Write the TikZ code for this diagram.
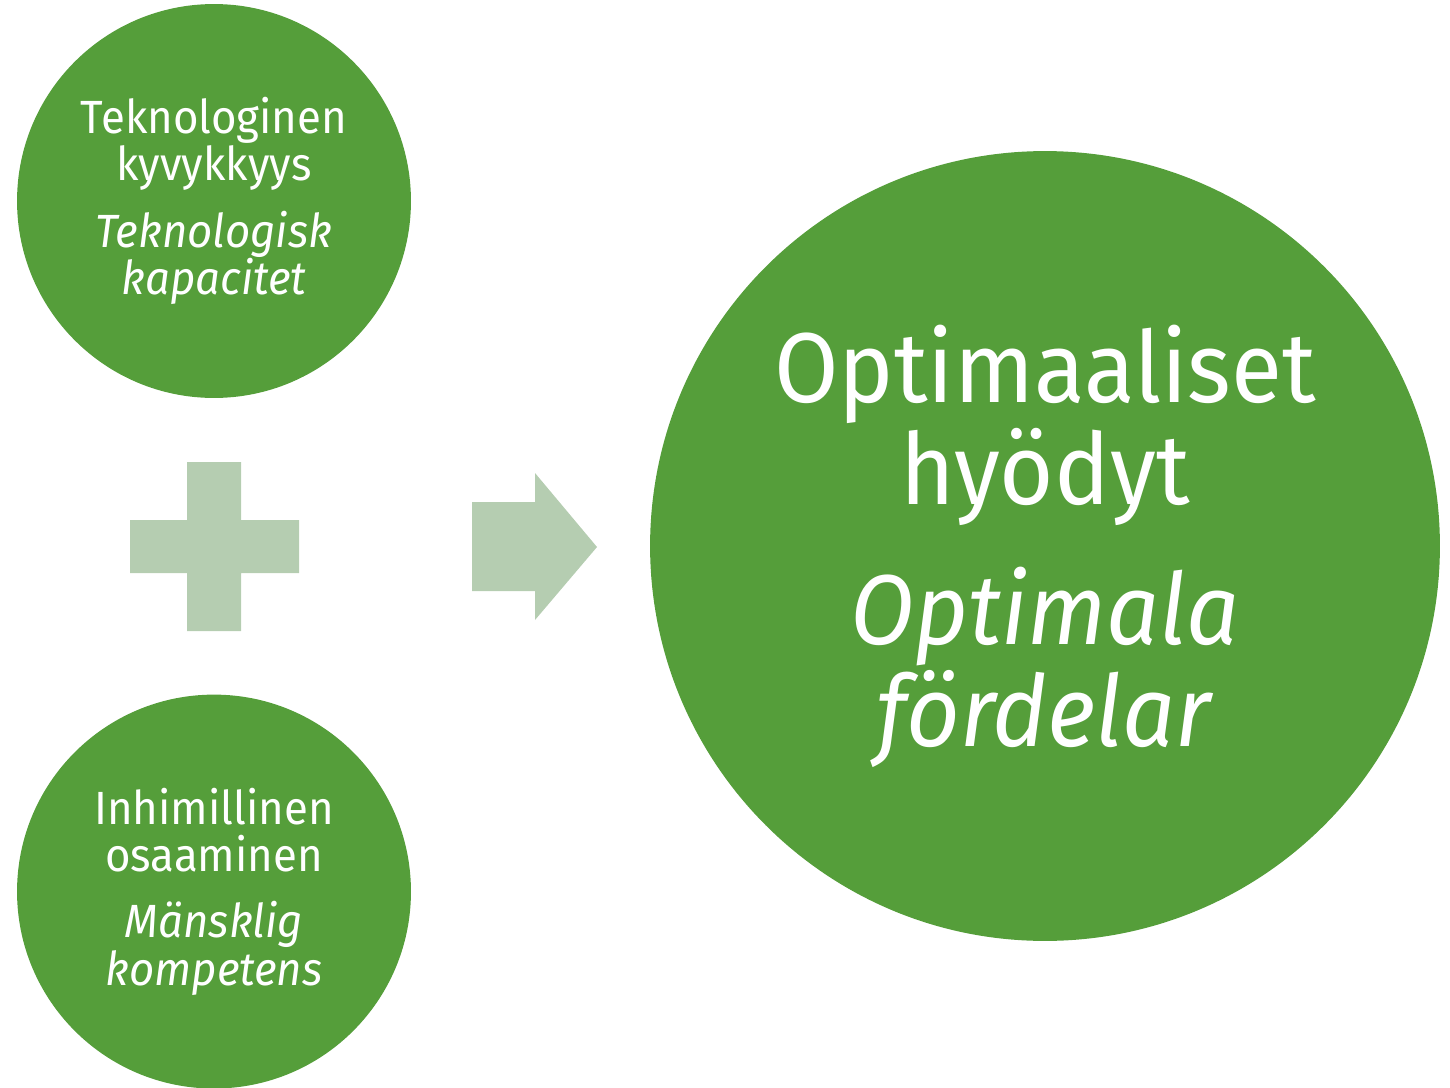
\documentclass[tikz,border=0pt]{standalone}
\usepackage{fontspec}
\setmainfont[FakeStretch=0.94]{Fira Sans}
\usetikzlibrary{positioning}

\definecolor{leafgreen}{RGB}{85,158,58}
\definecolor{palegreen}{RGB}{181,205,177}

\tikzset{
  bubble/.style={circle, fill=leafgreen, text=white, align=center, inner sep=0pt},
  smalltext/.style={font=\fontsize{26.5}{27}\selectfont},
  bigtext/.style={font=\fontsize{56.5}{58}\selectfont},
}

\begin{document}
\begin{tikzpicture}[x=0.02cm, y=-0.02cm]
    \useasboundingbox (0,0) rectangle (1450,1088);

    % input circles
    \node[bubble, smalltext, minimum size=7.88cm] (tech) at (214,201)
        {Teknologinen\\kyvykkyys\\[0.38cm]\textit{Teknologisk}\\\textit{kapacitet}};
    \node[bubble, smalltext, minimum size=7.88cm, below=5.92cm of tech] (human)
        {Inhimillinen\\osaaminen\\[0.38cm]\textit{Mänsklig}\\\textit{kompetens}};

    % result circle
    \node[bubble, bigtext, minimum size=15.8cm] (result) at (1045,546)
        {Optimaaliset\\hyödyt\\[0.76cm]\textit{Optimala}\\\textit{fördelar}};

    % plus sign
    \fill[palegreen] (187,462) -- (241,462) -- (241,520) -- (299,520) -- (299,573)
        -- (241,573) -- (241,631) -- (187,631) -- (187,573) -- (130,573)
        -- (130,520) -- (187,520) -- cycle;

    % arrow
    \fill[palegreen] (472,502) -- (535,502) -- (535,473) -- (597,547)
        -- (535,620) -- (535,591) -- (472,591) -- cycle;
\end{tikzpicture}
\end{document}
